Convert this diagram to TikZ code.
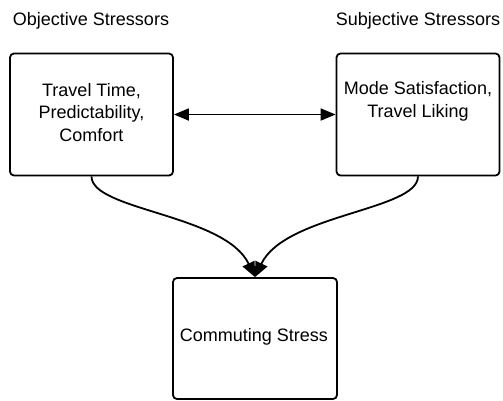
\documentclass[tikz,border=0pt]{standalone}
\usepackage{fontspec}
\setmainfont{Liberation Sans}
\usetikzlibrary{arrows.meta}
\begin{document}
\begin{tikzpicture}[x=1pt,y=-1pt,
  box/.style={draw, line width=1.8pt, rounded corners=4pt, minimum width=163pt, minimum height=122pt, inner sep=0pt},
  txt/.style={align=center, font=\fontsize{18}{22.5}\selectfont, inner sep=0pt},
  conn/.style={line width=1.8pt, -{Triangle[length=15pt,width=13pt]}},
  dbl/.style={line width=1.8pt, {Triangle[length=15pt,width=12pt]}-{Triangle[length=15pt,width=12pt]}}]
\useasboundingbox (0,0) rectangle (503,400);
\node[txt] (objtitle) at (91,21) {Objective Stressors};
\node[txt] (subjtitle) at (418,21) {Subjective Stressors};
\node[box] (obj) at (91.5,114.5) {};
\node[box] (subj) at (418,114.5) {};
\node[box, minimum height=121pt, minimum width=164pt] (stress) at (255,338.5) {};
\node[txt] (objtxt) at (91.5,112.5) {Travel Time,\\Predictability,\\Comfort};
\node[txt] (subjtxt) at (418,101.5) {Mode Satisfaction,\\Travel Liking};
\node[txt] (stresstxt) at (254,337) {Commuting Stress};
\draw[dbl] (obj) -- (subj);
\draw[conn] (obj.south) .. controls +(0,34) and +(-30,-63) .. (stress.north);
\draw[conn] (subj.south) .. controls +(0,34) and +(30,-63) .. (stress.north);
\end{tikzpicture}
\end{document}
